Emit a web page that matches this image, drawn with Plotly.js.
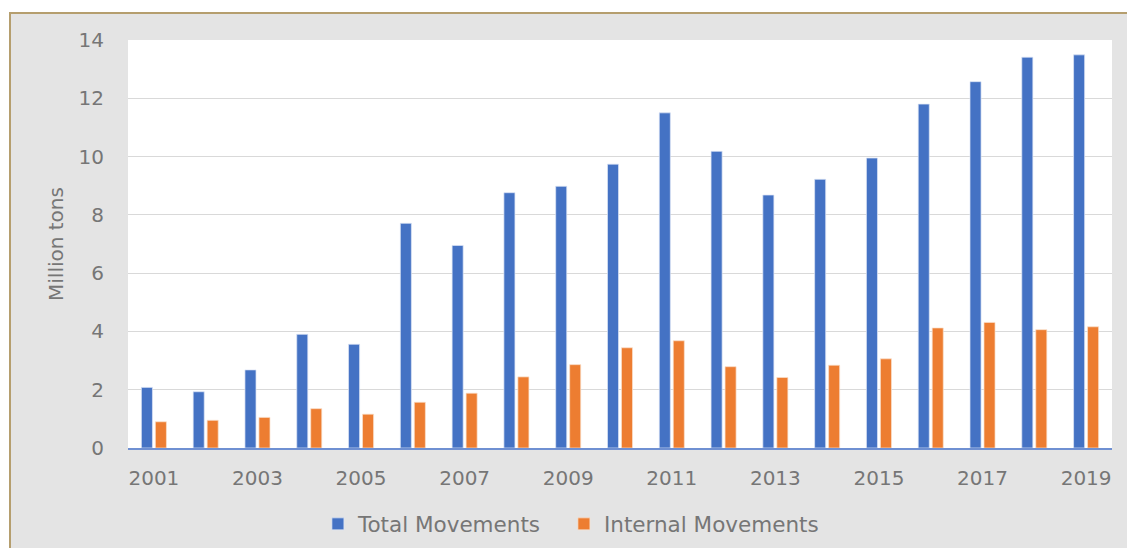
<!DOCTYPE html>
<html>
<head>
<meta charset="utf-8">
<script src="https://cdn.plot.ly/plotly-3.0.1.min.js"></script>
<style>
html,body{margin:0;padding:0;background:#ffffff;width:1127px;height:548px;overflow:hidden;}
#frame{position:absolute;left:9px;top:12px;width:1116px;height:534px;border-left:2px solid #b59e6e;border-top:2px solid #b59e6e;background:#e4e4e4;}
#chart{width:1116px;height:534px;}
</style>
</head>
<body>
<div id="frame"><div id="chart"></div></div>
<script>
const years = [2001,2002,2003,2004,2005,2006,2007,2008,2009,2010,2011,2012,2013,2014,2015,2016,2017,2018,2019];
const totalMovements = [2.08,1.93,2.68,3.90,3.56,7.71,6.95,8.76,8.98,9.74,11.50,10.18,8.68,9.22,9.95,11.80,12.57,13.41,13.49];
const internalMovements = [0.90,0.95,1.05,1.35,1.16,1.57,1.88,2.44,2.86,3.44,3.68,2.79,2.42,2.84,3.06,4.12,4.31,4.06,4.16];
const tickYears = [2001,2003,2005,2007,2009,2011,2013,2015,2017,2019];
const yTicks = [0,2,4,6,8,10,12,14];

const FONT = 'DejaVu Sans, sans-serif';
const GREY = '#767676';

const traces = [
  {type:'bar', name:'Total Movements', x:years, y:totalMovements, legend:'legend',
   marker:{color:'#4472c4', line:{color:'rgba(220,228,245,0.9)', width:0.8}}},
  {type:'bar', name:'Internal Movements', x:years, y:internalMovements, legend:'legend2',
   marker:{color:'#ed7d31', line:{color:'rgba(250,225,205,0.9)', width:0.8}}}
];

const legendBase = {orientation:'h', xanchor:'left', y:-0.186, yanchor:'middle',
  font:{family:FONT, size:21.5, color:GREY}, bgcolor:'rgba(0,0,0,0)', itemwidth:30};

const layout = {
  width:1116, height:534,
  margin:{l:117, r:15, t:26, b:100, autoexpand:false},
  paper_bgcolor:'#e4e4e4',
  plot_bgcolor:'#ffffff',
  barmode:'group',
  bargap:0.46,
  bargroupgap:0.21,
  font:{family:FONT, color:GREY, size:20},
  showlegend:true,
  legend:Object.assign({}, legendBase, {x:0.193}),
  legend2:Object.assign({}, legendBase, {x:0.443}),
  xaxis:{
    type:'linear', range:[2000.5,2019.5],
    tickmode:'array', tickvals:tickYears, ticktext:tickYears.map(String),
    ticks:'outside', ticklen:11, tickcolor:'rgba(0,0,0,0)',
    showgrid:false, zeroline:false,
    showline:true, linecolor:'#6f90d2', linewidth:1.5,
    tickfont:{family:FONT, size:20, color:GREY}
  },
  yaxis:{
    range:[0,14], tickmode:'array', tickvals:yTicks,
    ticks:'outside', ticklen:19, tickcolor:'rgba(0,0,0,0)',
    showgrid:true, gridcolor:'#d9d9d9', gridwidth:1,
    zeroline:false, showline:false,
    tickfont:{family:FONT, size:20, color:GREY},
    title:{text:'Million tons', font:{family:FONT, size:20, color:GREY}, standoff:9}
  }
};

Plotly.newPlot('chart', traces, layout, {displayModeBar:false, staticPlot:true});
</script>
</body>
</html>
